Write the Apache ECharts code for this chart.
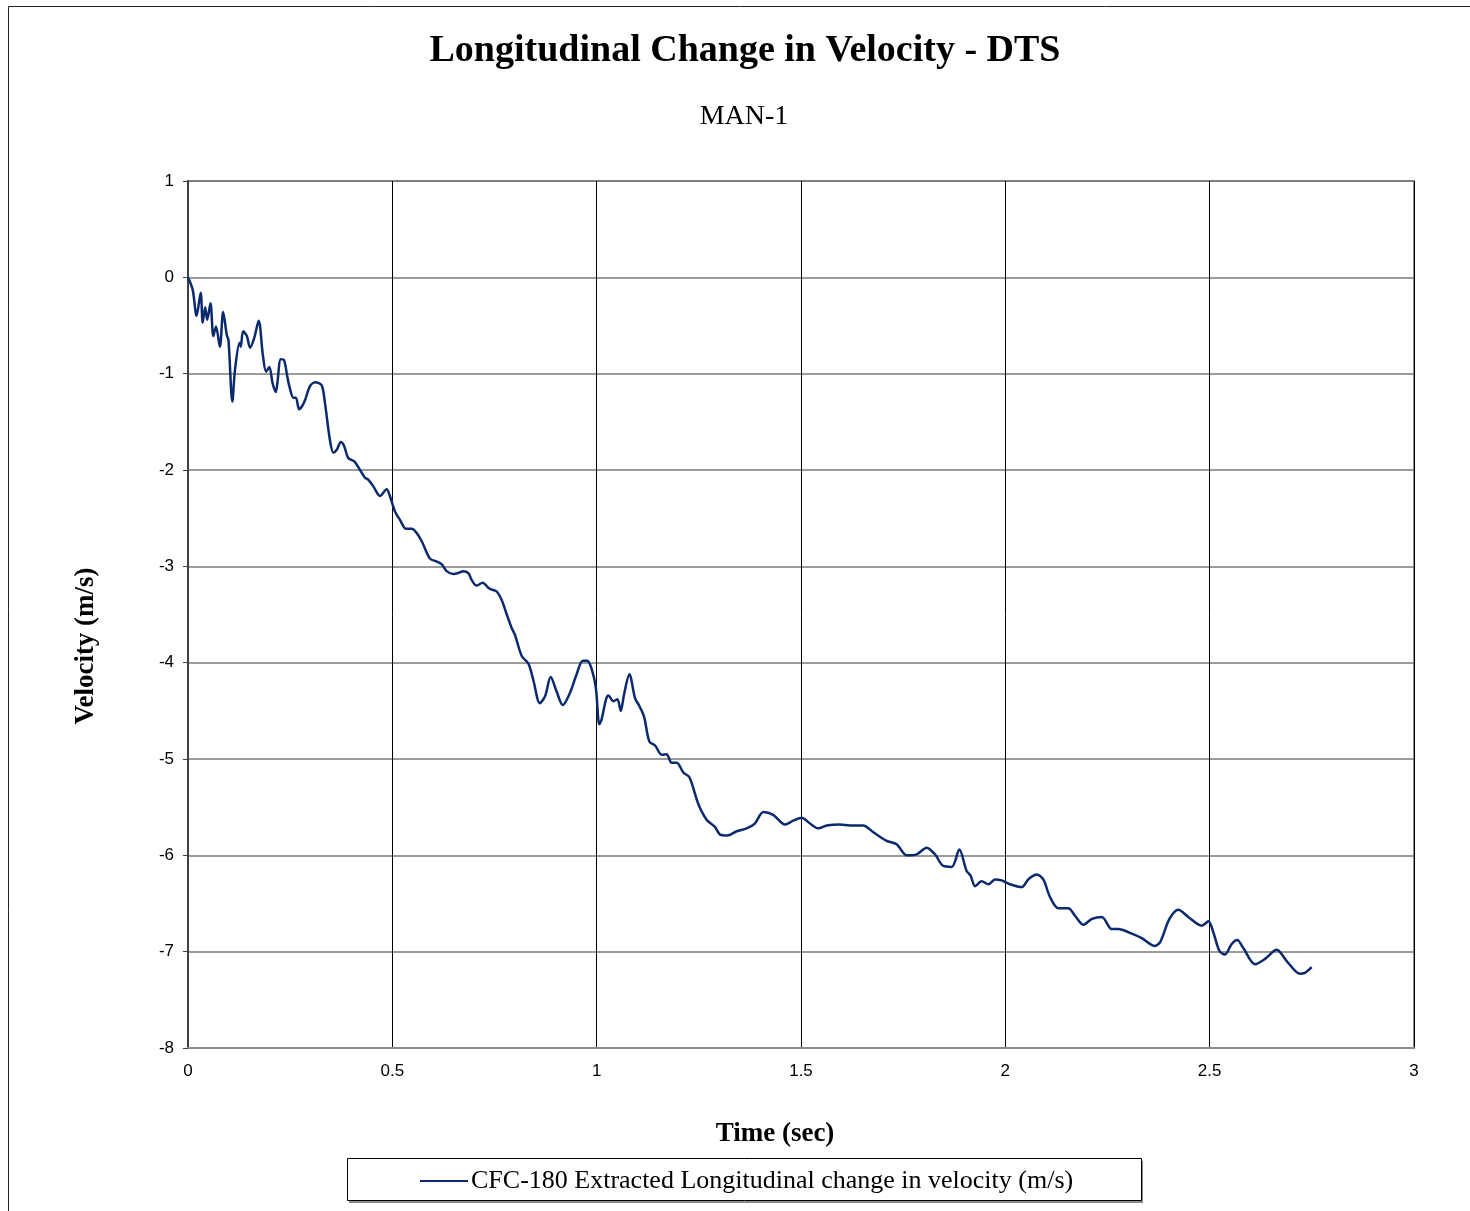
<!DOCTYPE html>
<html>
<head>
<meta charset="utf-8">
<title>Longitudinal Change in Velocity - DTS</title>
<script src="https://cdn.jsdelivr.net/npm/echarts@6/dist/echarts.min.js"></script>
<style>
  html, body { margin: 0; padding: 0; background: #ffffff; }
  #chart { width: 1470px; height: 1211px; }
</style>
</head>
<body>
<div id="chart"></div>
<script>
// Time samples (sec)
const timeSec = [
  0, 0.0115, 0.021, 0.031, 0.036, 0.042, 0.047, 0.055, 0.062, 0.0685,
  0.078, 0.086, 0.095, 0.099, 0.1085, 0.115, 0.126, 0.129, 0.135, 0.144,
  0.152, 0.162, 0.173, 0.183, 0.191, 0.199, 0.207, 0.2146, 0.2186, 0.227,
  0.235, 0.243, 0.248, 0.258, 0.264, 0.272, 0.284, 0.2985, 0.311, 0.327,
  0.335, 0.347, 0.3556, 0.364, 0.374, 0.382, 0.392, 0.407, 0.421, 0.433,
  0.441, 0.4535, 0.470, 0.486, 0.494, 0.5065, 0.519, 0.5335, 0.547, 0.559,
  0.572, 0.592, 0.6086, 0.621, 0.633, 0.649, 0.6615, 0.6737, 0.686, 0.694,
  0.706, 0.721, 0.737, 0.755, 0.7676, 0.780, 0.792, 0.800, 0.8166, 0.833,
  0.845, 0.861, 0.8736, 0.8875, 0.902, 0.917, 0.935, 0.951, 0.966, 0.977,
  0.988, 0.998, 1.0065, 1.012, 1.023, 1.0286, 1.041, 1.0506, 1.059, 1.067,
  1.080, 1.094, 1.1045, 1.116, 1.129, 1.143, 1.159, 1.171, 1.1836, 1.196,
  1.212, 1.227, 1.249, 1.269, 1.2895, 1.302, 1.3197, 1.3426, 1.367, 1.387,
  1.408, 1.432, 1.461, 1.481, 1.5016, 1.522, 1.5425, 1.563, 1.595, 1.620,
  1.652, 1.677, 1.7097, 1.734, 1.7587, 1.783, 1.8075, 1.828, 1.848, 1.869,
  1.8875, 1.905, 1.915, 1.926, 1.942, 1.9588, 1.975, 1.991, 2.0114, 2.040,
  2.056, 2.077, 2.093, 2.109, 2.130, 2.154, 2.171, 2.191, 2.212, 2.236,
  2.2603, 2.2765, 2.305, 2.334, 2.366, 2.379, 2.4016, 2.4235, 2.4477, 2.4805,
  2.497, 2.509, 2.5236, 2.537, 2.554, 2.5675, 2.582, 2.611, 2.6355, 2.664,
  2.689, 2.721, 2.733, 2.7497
];

// Longitudinal change in velocity (m/s), CFC-180 filtered
const velocity = [
  0, -0.13, -0.40, -0.16, -0.47, -0.31, -0.44, -0.27, -0.61, -0.51,
  -0.72, -0.36, -0.60, -0.65, -1.29, -0.96, -0.68, -0.72, -0.56, -0.61,
  -0.73, -0.63, -0.45, -0.80, -0.98, -0.93, -1.10, -1.19, -1.10, -0.85,
  -0.86, -1.03, -1.13, -1.25, -1.25, -1.37, -1.30, -1.13, -1.09, -1.12,
  -1.30, -1.68, -1.82, -1.79, -1.71, -1.75, -1.875, -1.91, -2.00, -2.08,
  -2.10, -2.17, -2.27, -2.20, -2.27, -2.43, -2.52, -2.61, -2.61, -2.65,
  -2.74, -2.92, -2.95, -2.98, -3.05, -3.08, -3.07, -3.05, -3.07, -3.14,
  -3.20, -3.17, -3.23, -3.26, -3.35, -3.50, -3.64, -3.71, -3.93, -4.01,
  -4.18, -4.42, -4.35, -4.15, -4.30, -4.44, -4.31, -4.12, -3.98, -3.98,
  -4.07, -4.26, -4.64, -4.59, -4.38, -4.34, -4.40, -4.38, -4.50, -4.33,
  -4.12, -4.37, -4.45, -4.56, -4.82, -4.86, -4.955, -4.95, -5.04, -5.04,
  -5.14, -5.19, -5.47, -5.63, -5.705, -5.785, -5.795, -5.75, -5.72, -5.67,
  -5.55, -5.58, -5.68, -5.64, -5.61, -5.67, -5.72, -5.69, -5.68, -5.69,
  -5.69, -5.76, -5.85, -5.885, -6.00, -5.99, -5.92, -5.99, -6.11, -6.12,
  -5.94, -6.16, -6.21, -6.32, -6.27, -6.30, -6.25, -6.26, -6.30, -6.33,
  -6.25, -6.20, -6.25, -6.43, -6.55, -6.55, -6.63, -6.72, -6.66, -6.64,
  -6.765, -6.765, -6.805, -6.86, -6.94, -6.90, -6.66, -6.565, -6.64, -6.73,
  -6.685, -6.80, -6.99, -7.03, -6.92, -6.88, -6.96, -7.13, -7.075, -6.98,
  -7.10, -7.23, -7.22, -7.16
];

const seriesName = 'CFC-180 Extracted Longitudinal change in velocity (m/s)';
const chartTitle = 'Longitudinal Change in Velocity - DTS';
const chartSubtitle = 'MAN-1';
const xAxisTitle = 'Time (sec)';
const yAxisTitle = 'Velocity (m/s)';

const lineColor = '#0b2a6e';
const serif = '"Liberation Serif", "Times New Roman", Times, serif';
const sans = '"Liberation Sans", Arial, Helvetica, sans-serif';

const points = timeSec.map((t, i) => [t, velocity[i]]);

const chart = echarts.init(document.getElementById('chart'), null, { renderer: 'canvas' });

chart.setOption({
  backgroundColor: '#ffffff',
  animation: false,
  grid: {
    left: 188,
    top: 181,
    right: 56,
    bottom: 163,
    show: true,
    borderColor: '#8c8c8c',
    borderWidth: 2
  },
  xAxis: {
    type: 'value',
    min: 0,
    max: 3,
    interval: 0.5,
    axisLine: { show: true, onZero: false, lineStyle: { color: '#8c8c8c', width: 2 } },
    axisTick: { show: false },
    axisLabel: {
      color: '#000',
      fontFamily: sans,
      fontSize: 17,
      margin: 15
    },
    splitLine: { show: true, lineStyle: { color: '#000', width: 1 } }
  },
  yAxis: {
    type: 'value',
    min: -8,
    max: 1,
    interval: 1,
    axisLine: { show: true, onZero: false, lineStyle: { color: '#404040', width: 2 } },
    axisTick: { show: true, length: 5, lineStyle: { color: '#404040', width: 1 } },
    axisLabel: {
      color: '#000',
      fontFamily: sans,
      fontSize: 17,
      margin: 14,
      padding: [6, 0, 0, 0]
    },
    splitLine: { show: true, lineStyle: { color: '#7a7a7a', width: 1.5 } }
  },
  legend: {
    show: true,
    left: 420,
    top: 1168,
    itemWidth: 48,
    itemHeight: 2,
    itemGap: 10,
    padding: 0,
    icon: 'rect',
    textStyle: { color: '#000', fontFamily: serif, fontSize: 26, padding: [0, 0, 0, -2] },
    data: [{ name: seriesName, icon: 'rect' }]
  },
  graphic: [
    // outer frame
    {
      type: 'rect', silent: true, z: -10,
      shape: { x: 8.5, y: 6.5, width: 1500, height: 1300 },
      style: { fill: '#fff', stroke: '#222', lineWidth: 1 }
    },
    // legend frame: drop edge, then the box itself
    {
      type: 'rect', silent: true, z: -6,
      shape: { x: 349, y: 1161, width: 794, height: 42 },
      style: { fill: '#8a8a8a' }
    },
    {
      type: 'rect', silent: true, z: -5,
      shape: { x: 347.5, y: 1158.5, width: 794, height: 42 },
      style: { fill: '#fff', stroke: '#000', lineWidth: 1 }
    },
    {
      type: 'text', silent: true,
      style: {
        x: 745, y: 51, text: chartTitle, align: 'center', verticalAlign: 'middle',
        fontFamily: serif, fontWeight: 'bold', fontSize: 38, fill: '#000'
      }
    },
    {
      type: 'text', silent: true,
      style: {
        x: 744, y: 117, text: chartSubtitle, align: 'center', verticalAlign: 'middle',
        fontFamily: serif, fontSize: 28, fill: '#000'
      }
    },
    {
      type: 'text', silent: true,
      style: {
        x: 775, y: 1134, text: xAxisTitle, align: 'center', verticalAlign: 'middle',
        fontFamily: serif, fontWeight: 'bold', fontSize: 27, fill: '#000'
      }
    },
    {
      type: 'text', silent: true,
      x: 86, y: 646, rotation: Math.PI / 2,
      style: {
        x: 0, y: 0, text: yAxisTitle, align: 'center', verticalAlign: 'middle',
        fontFamily: serif, fontWeight: 'bold', fontSize: 27, fill: '#000'
      }
    }
  ],
  series: [
    {
      name: seriesName,
      type: 'line',
      data: points,
      smooth: 0.3,
      showSymbol: false,
      symbol: 'none',
      clip: true,
      itemStyle: { color: lineColor },
      lineStyle: { color: lineColor, width: 2.5 }
    }
  ]
});
</script>
</body>
</html>
